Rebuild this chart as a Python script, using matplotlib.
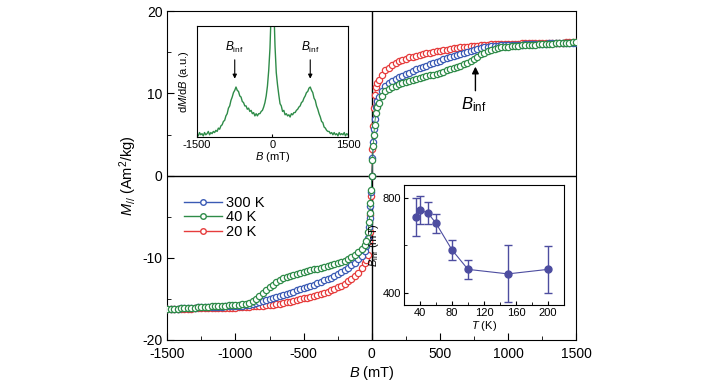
import matplotlib
matplotlib.use('Agg')
import matplotlib.pyplot as plt
from matplotlib.ticker import MultipleLocator
from matplotlib.lines import Line2D

plt.rcParams['font.family'] = ['Liberation Sans', 'DejaVu Sans']
plt.rcParams['mathtext.fontset'] = 'custom'
plt.rcParams['mathtext.rm'] = 'Liberation Sans'
plt.rcParams['mathtext.it'] = 'Liberation Sans:italic'
plt.rcParams['axes.unicode_minus'] = False

# field grid for the M(B) curves (mT), 25 mT steps, finer near zero
B = (list(range(-1500, -49, 25))
     + [-40, -30, -20, -15, -10, -5, 0, 5, 10, 15, 20, 30, 40]
     + list(range(50, 1501, 25)))

M_300K = [-16.25, -16.22, -16.2, -16.18, -16.15, -16.12, -16.1, -16.08, -16.05, -16.02,
          -16.0, -16.0, -16.0, -15.98, -15.95, -15.95, -15.95, -15.92, -15.9, -15.9,
          -15.9, -15.88, -15.85, -15.8, -15.75, -15.66, -15.55, -15.43, -15.3, -15.18,
          -15.05, -14.93, -14.8, -14.68, -14.55, -14.4, -14.25, -14.1, -13.95, -13.8,
          -13.65, -13.52, -13.4, -13.25, -13.1, -12.93, -12.75, -12.58, -12.4, -12.2,
          -12.0, -11.75, -11.5, -11.2, -10.9, -10.57, -10.2, -9.75, -9.2,
          -8.6, -7.6, -6.2, -5.1, -3.7, -2.0, 0.0, 2.1, 4.1, 5.7, 6.9, 8.3, 9.1,
          9.6, 10.35, 10.95, 11.25, 11.5, 11.73, 11.95, 12.15, 12.35, 12.55,
          12.75, 12.93, 13.1, 13.25, 13.4, 13.55, 13.7, 13.85, 14.0, 14.15,
          14.3, 14.45, 14.6, 14.73, 14.85, 14.98, 15.1, 15.23, 15.35, 15.45,
          15.55, 15.63, 15.7, 15.75, 15.8, 15.83, 15.85, 15.88, 15.9, 15.9,
          15.92, 15.93, 15.95, 15.97, 16.0, 16.0, 16.0, 16.03, 16.05, 16.08,
          16.1, 16.1, 16.1, 16.13, 16.15, 16.18, 16.2, 16.2, 16.2]

M_40K = [-16.25, -16.22, -16.2, -16.18, -16.15, -16.12, -16.1, -16.08, -16.05, -16.02,
         -16.0, -15.98, -15.95, -15.92, -15.9, -15.88, -15.85, -15.82, -15.8, -15.78,
         -15.75, -15.7, -15.65, -15.57, -15.45, -15.25, -15.0, -14.68, -14.3, -13.95,
         -13.6, -13.28, -13.0, -12.73, -12.5, -12.33, -12.2, -12.07, -11.95, -11.82,
         -11.7, -11.6, -11.5, -11.4, -11.3, -11.2, -11.1, -11.0, -10.9, -10.78,
         -10.65, -10.53, -10.4, -10.17, -9.9, -9.62, -9.3, -8.95, -8.5,
         -7.9, -6.9, -5.6, -4.6, -3.3, -1.8, 0.0, 1.9, 3.6, 5.0, 6.2, 7.6, 8.4,
         8.9, 9.75, 10.3, 10.57, 10.8, 10.95, 11.1, 11.25, 11.4, 11.5,
         11.6, 11.73, 11.85, 11.98, 12.1, 12.2, 12.3, 12.42, 12.55, 12.67,
         12.8, 12.95, 13.1, 13.25, 13.4, 13.57, 13.75, 13.95, 14.2, 14.48,
         14.75, 14.97, 15.15, 15.32, 15.45, 15.53, 15.6, 15.65, 15.7, 15.75,
         15.8, 15.82, 15.85, 15.88, 15.9, 15.92, 15.95, 15.98, 16.0, 16.02,
         16.05, 16.08, 16.1, 16.12, 16.15, 16.18, 16.2, 16.22, 16.25]

M_20K = [-16.25, -16.25, -16.25, -16.22, -16.2, -16.2, -16.2, -16.18, -16.15, -16.15,
         -16.15, -16.12, -16.1, -16.1, -16.1, -16.1, -16.1, -16.08, -16.05, -16.05,
         -16.05, -16.02, -16.0, -15.98, -15.95, -15.92, -15.9, -15.88, -15.85, -15.8,
         -15.75, -15.7, -15.65, -15.58, -15.5, -15.43, -15.35, -15.25, -15.15, -15.05,
         -14.95, -14.85, -14.75, -14.63, -14.5, -14.38, -14.25, -14.1, -13.95, -13.78,
         -13.6, -13.38, -13.15, -12.87, -12.55, -12.2, -11.8, -11.2, -10.6,
         -10.3, -9.7, -8.0, -6.8, -4.8, -2.5, 0.0, 3.2, 6.0, 8.2, 9.8, 10.8, 11.3,
         11.6, 12.25, 12.8, 13.15, 13.45, 13.68, 13.9, 14.08, 14.25, 14.38,
         14.5, 14.6, 14.7, 14.8, 14.9, 14.98, 15.05, 15.13, 15.2, 15.28,
         15.35, 15.43, 15.5, 15.55, 15.6, 15.65, 15.7, 15.75, 15.8, 15.83,
         15.85, 15.9, 15.95, 15.98, 16.0, 16.0, 16.0, 16.02, 16.05, 16.05,
         16.05, 16.08, 16.1, 16.1, 16.1, 16.12, 16.15, 16.15, 16.15, 16.18,
         16.2, 16.2, 16.2, 16.2, 16.2, 16.22, 16.25, 16.25, 16.25]

# inset: dM/dB at 40 K (a.u.)
B_deriv = list(range(-1500, 1501, 25))
dMdB = [0.03, 0.01, 0.04, 0.02, 0.03, 0.01, 0.04, 0.02, 0.03, 0.05,
        0.02, 0.04, 0.03, 0.05, 0.04, 0.06, 0.05, 0.08, 0.07, 0.10,
        0.11, 0.14, 0.15, 0.19, 0.21, 0.26, 0.28, 0.33, 0.36, 0.40,
        0.42, 0.45, 0.42, 0.41, 0.37, 0.36, 0.32, 0.31, 0.28, 0.28,
        0.25, 0.26, 0.23, 0.24, 0.21, 0.22, 0.19, 0.21, 0.19, 0.21,
        0.21, 0.23, 0.24, 0.27, 0.31, 0.37, 0.46, 0.60, 0.80, 1.15,
        1.60,
        1.20, 0.82, 0.58, 0.47, 0.38, 0.30, 0.28, 0.23, 0.24, 0.20,
        0.21, 0.19, 0.20, 0.18, 0.21, 0.20, 0.22, 0.22, 0.24, 0.25,
        0.27, 0.28, 0.31, 0.32, 0.35, 0.37, 0.40, 0.41, 0.44, 0.45,
        0.42, 0.40, 0.35, 0.33, 0.28, 0.25, 0.21, 0.18, 0.14, 0.13,
        0.09, 0.08, 0.06, 0.05, 0.05, 0.03, 0.04, 0.02, 0.04, 0.02,
        0.03, 0.01, 0.04, 0.02, 0.03, 0.02, 0.04, 0.01, 0.03, 0.02]

# inset: B_inf vs T
T = [35, 40, 50, 60, 80, 100, 150, 200]
B_inf = [720, 748, 735, 692, 580, 498, 479, 498]
B_inf_err = [80, 58, 47, 40, 42, 40, 120, 100]

c_red = '#e63c3c'
c_blue = '#3a5ab4'
c_green = '#2e8b48'
c_purple = '#4d4da0'

fig = plt.figure(figsize=(7.25, 3.86), dpi=100)
ax = fig.add_axes([0.2308, 0.1192, 0.5641, 0.8515])

ax.axhline(0, color='black', lw=1, zorder=1)
ax.axvline(0, color='black', lw=1, zorder=1)

kw = dict(marker='o', mfc='white', ms=4.5, mew=0.9, lw=0.6, zorder=3)
ax.plot(B, M_20K, color=c_red, **kw)
ax.plot(B, M_300K, color=c_blue, **kw)
ax.plot(B, M_40K, color=c_green, **kw)

ax.set_xlim(-1500, 1500)
ax.set_ylim(-20, 20)
ax.set_xticks([-1500, -1000, -500, 0, 500, 1000, 1500])
ax.set_yticks([-20, -10, 0, 10, 20])
ax.xaxis.set_minor_locator(MultipleLocator(250))
ax.yaxis.set_minor_locator(MultipleLocator(5))
ax.tick_params(which='both', direction='in', labelsize=10, top=False, right=False)
ax.tick_params(which='major', length=5)
ax.tick_params(which='minor', length=3)
ax.tick_params(axis='x', pad=5)
ax.set_xlabel(r'$B$ (mT)', fontsize=10.5, labelpad=2)
ax.set_ylabel(r'$M_{//}$ (Am$^2$/kg)', fontsize=10.5, labelpad=2)

handles = [Line2D([], [], color=c, marker='o', mfc='white', ms=4, mew=1.0, lw=1)
           for c in (c_blue, c_green, c_red)]
ax.legend(handles, ['300 K', '40 K', '20 K'], loc='upper left',
          bbox_to_anchor=(0.015, 0.47), frameon=False, fontsize=10.5,
          handlelength=2.6, handletextpad=0.3, labelspacing=0.05, borderpad=0.2)

ax.annotate('', xy=(760, 13.6), xytext=(760, 10.0),
            arrowprops=dict(arrowstyle='-|>', color='black', lw=1, mutation_scale=10))
ax.text(745, 8.7, r'$B_{\rm inf}$', fontsize=12, ha='center', va='center')

# inset 1: derivative
ax1 = fig.add_axes([0.2717, 0.6451, 0.2083, 0.2876])
ax1.plot(B_deriv, dMdB, color=c_green, lw=1.0)
ax1.set_xlim(-1500, 1500)
ax1.set_ylim(0, 1.0)
ax1.set_xticks([-1500, 0, 1500])
ax1.set_yticks([])
ax1.tick_params(direction='in', length=2, labelsize=8, pad=2)
ax1.set_xlabel(r'$B$ (mT)', fontsize=8, labelpad=0)
ax1.set_ylabel(r'd$M$/d$B$ (a.u.)', fontsize=8, labelpad=4)
for xb in (-750, 750):
    ax1.annotate('', xy=(xb, 0.5), xytext=(xb, 0.72),
                 arrowprops=dict(arrowstyle='-|>', color='black', lw=0.8, mutation_scale=6))
    ax1.text(xb, 0.74, r'$B_{\rm inf}$', fontsize=8.5, ha='center', va='bottom')

# inset 2: B_inf vs T
ax2 = fig.add_axes([0.5572, 0.2098, 0.2207, 0.3109])
ax2.errorbar(T, B_inf, yerr=B_inf_err, color=c_purple, marker='o', ms=5,
             lw=0.8, elinewidth=1.0, capsize=3)
ax2.set_xlim(20, 220)
ax2.set_ylim(348, 853)
ax2.set_xticks([40, 80, 120, 160, 200])
ax2.set_yticks([400, 800])
ax2.xaxis.set_minor_locator(MultipleLocator(20))
ax2.yaxis.set_minor_locator(MultipleLocator(200))
ax2.tick_params(which='both', direction='in', labelsize=8, pad=2)
ax2.tick_params(which='major', length=3)
ax2.tick_params(which='minor', length=2)
ax2.set_xlabel(r'$T$ (K)', fontsize=8, labelpad=1)
ax2.set_ylabel(r'$B_{\rm inf}$ (mT)', fontsize=8, labelpad=1)

fig.savefig('out.png', dpi=100)
